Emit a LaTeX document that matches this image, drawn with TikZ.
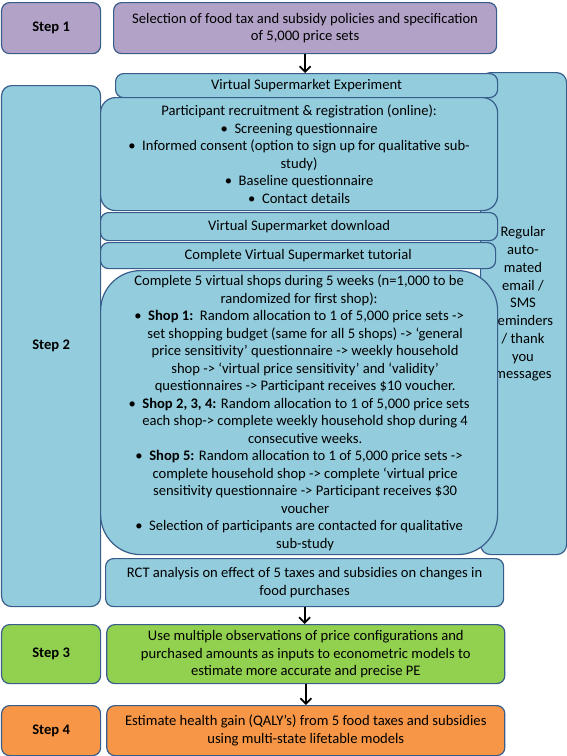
\documentclass[tikz,border=0pt]{standalone}
\usepackage{fontspec}
\setmainfont{Carlito}
\usetikzlibrary{positioning,arrows.meta}
\definecolor{boxline}{HTML}{385D8A}
\definecolor{lilac}{HTML}{B3A2C7}
\definecolor{aqua}{HTML}{93CDDD}
\definecolor{leaf}{HTML}{92D050}
\definecolor{tangerine}{HTML}{F79646}

\begin{document}
\begin{tikzpicture}[
  x=1pt,y=-1pt,
  flowbox/.style={
    draw=boxline,
    line width=1.2pt,
    rounded corners=8pt,
    anchor=north west,
    align=center,
    inner sep=0pt,
    text=black,
    font=\fontsize{14.6}{17.5}\selectfont,
  },
  steplabel/.style={flowbox,minimum width=99pt,font=\fontsize{14.6}{17.5}\selectfont\bfseries},
  flowarrow/.style={line width=1.8pt,-{Straight Barb[length=5.5pt,width=11pt]}},
  ]
  \useasboundingbox (0,0) rectangle (567,756);
  \node[steplabel,fill=lilac,minimum height=51pt] (step1) at (1,2) {Step 1};
  \node[flowbox,fill=lilac,minimum width=383pt,minimum height=51pt] (policies) at (113,2)
    {Selection of food tax and subsidy policies and specification\\of 5,000 price sets};
  \node[steplabel,fill=aqua,minimum height=521pt,rounded corners=10pt] (step2) at (1,85) {Step 2};
  \node[flowbox,fill=aqua,minimum width=86pt,minimum height=482pt,rounded corners=10pt] (remind) at (480,72) {};
  \node[align=center,text=black,font=\fontsize{14.6}{17.75}\selectfont] (remindtext) at (523,304)
    {Regular\\auto-\\mated\\email /\\SMS\\reminders\\/ thank\\you\\messages};
  \begin{scope}[every node/.append style={fill=aqua,minimum width=397pt}]
    \node[flowbox,minimum width=382pt,minimum height=24pt] (vse) at (115,73) {Virtual Supermarket Experiment};
    \node[flowbox,minimum height=113pt,rounded corners=15pt] (recruit) at (100,97)
      {Participant recruitment \& registration (online):\\
       \textbullet\ \ Screening questionnaire\\
       \textbullet\ \ Informed consent (option to sign up for qualitative sub-\\
       study)\\
       \textbullet\ \ Baseline questionnaire\\
       \textbullet\ \ Contact details};
    \node[flowbox,minimum height=28pt] (download) at (100,212) {Virtual Supermarket download};
    \node[flowbox,minimum width=395pt,minimum height=26pt] (tutorial) at (100,242) {Complete Virtual Supermarket tutorial};
    \node[flowbox,minimum height=284pt,rounded corners=40pt] (shops) at (100,270)
      {Complete 5 virtual shops during 5 weeks (n=1,000 to be\\
       randomized for first shop):\\
       \textbullet\ \ \textbf{Shop 1:}\ \ Random allocation to 1 of 5,000 price sets ->\\
       \hspace*{12pt}set shopping budget (same for all 5 shops) -> ‘general\\
       \hspace*{12pt}price sensitivity’ questionnaire -> weekly household\\
       \hspace*{12pt}shop -> ‘virtual price sensitivity’ and ‘validity’\\
       \hspace*{12pt}questionnaires -> Participant receives \$10 voucher.\\
       \textbullet\ \ \textbf{Shop 2, 3, 4:} Random allocation to 1 of 5,000 price sets\\
       \hspace*{12pt}each shop-> complete weekly household shop during 4\\
       \hspace*{12pt}consecutive weeks.\\
       \textbullet\ \ \textbf{Shop 5:} Random allocation to 1 of 5,000 price sets ->\\
       \hspace*{12pt}complete household shop -> complete ‘virtual price\\
       \hspace*{12pt}sensitivity questionnaire -> Participant receives \$30\\
       \hspace*{12pt}voucher\\
       \textbullet\ \ Selection of participants are contacted for qualitative\\
       \hspace*{12pt}sub-study};
    \node[flowbox,minimum width=398pt,minimum height=48pt] (rct) at (105,558)
      {RCT analysis on effect of 5 taxes and subsidies on changes in\\food purchases};
  \end{scope}
  \node[steplabel,fill=leaf,minimum height=59pt] (step3) at (1,624) {Step 3};
  \node[flowbox,fill=leaf,minimum width=398pt,minimum height=59pt,right=5pt of step3] (models)
    {Use multiple observations of price configurations and\\
     purchased amounts as inputs to econometric models to\\
     estimate more accurate and precise PE};
  \node[steplabel,fill=tangerine,minimum height=50pt] (step4) at (1,705) {Step 4};
  \node[flowbox,fill=tangerine,minimum width=398pt,minimum height=50pt,right=5pt of step4] (health)
    {Estimate health gain (QALY’s) from 5 food taxes and subsidies\\
     using multi-state lifetable models};
  \draw[flowarrow] (policies.south) -- (policies.south |- vse.north);
  \draw[flowarrow] (rct.south) -- (rct.south |- models.north);
  \draw[flowarrow] (models.south) -- (models.south |- health.north);
\end{tikzpicture}
\end{document}
